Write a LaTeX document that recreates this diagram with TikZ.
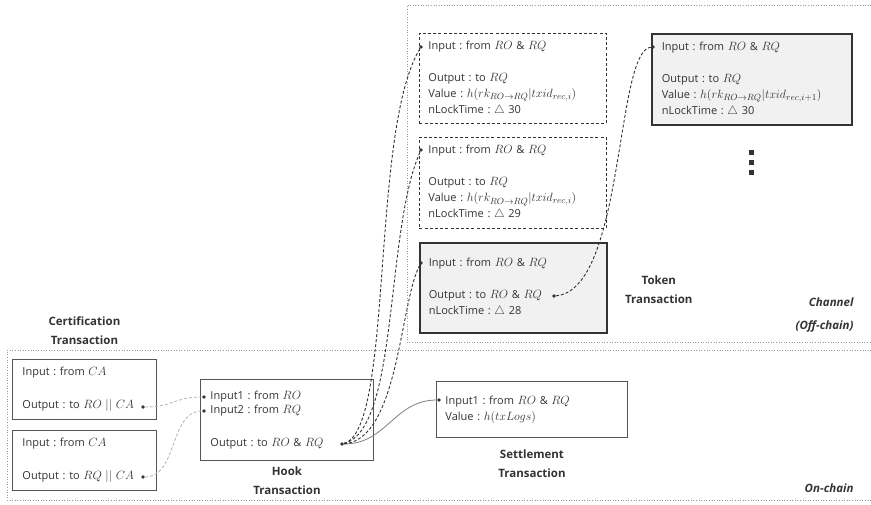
\documentclass[tikz,border=0pt]{standalone}
\usepackage{fontspec}
\setmainfont{Open Sans}
\usetikzlibrary{positioning}
\DeclareMathSizes{11}{12}{9}{7}

\definecolor{ink}{HTML}{333333}
\definecolor{boxline}{HTML}{555555}
\definecolor{boxfill}{HTML}{F1F1F1}
\definecolor{zonegray}{HTML}{9A9A9A}

\begin{document}
\frenchspacing
\begin{tikzpicture}[x=1pt,y=-1pt]
\tikzset{% styles for the boxes, the dots and the links
        tx/.style={anchor=north west,align=left,inner xsep=9pt,inner ysep=0pt,draw=boxline,line width=0.9pt,text=ink,font=\fontsize{11}{16}\selectfont},
        tkdash/.style={tx,draw=ink,dash pattern=on 3pt off 2.2pt},
        tkfull/.style={tx,draw=ink,line width=1.6pt,fill=boxfill},
        pin/.style={circle,fill=ink,inner sep=0pt,minimum size=3.6pt},
        lbl/.style={align=center,text=ink,font=\fontsize{11.5}{19}\selectfont\bfseries},
        zone/.style={draw=zonegray,line width=0.6pt,dotted},
        c1/.style={ink,line width=0.9pt,dash pattern=on 3pt off 2pt},
        c2/.style={gray!60,line width=0.8pt,dash pattern=on 3pt off 2pt},
        c3/.style={gray,line width=0.8pt},
        }
\useasboundingbox (0,0) rectangle (871,505);

% Zones
\draw[zone] (871,5) -- (407,5) -- (407,342) -- (871,342);
\draw[zone] (871,350) -- (7,350) -- (7,500) -- (871,500);

% Channel boxes
\node[tkdash,text width=169pt,minimum height=90pt] (tA) at (419,33) {Input : from $RO$ \& $RQ$\\[16pt] Output : to $RQ$\\ Value : $h(rk_{RO\rightarrow RQ}|txid_{rec,i})$\\ nLockTime : $\triangle$ 30};
\node[tkdash,text width=169pt,minimum height=91pt] (tB) at (419,137) {Input : from $RO$ \& $RQ$\\[16pt] Output : to $RQ$\\ Value : $h(rk_{RO\rightarrow RQ}|txid_{rec,i})$\\ nLockTime : $\triangle$ 29};
\node[tkfull,text width=169pt,minimum height=90pt] (tC) at (419,242) {Input : from $RO$ \& $RQ$\\[16pt] Output : to $RO$ \& $RQ$\\ nLockTime : $\triangle$ 28};
\node[tkfull,inner xsep=10pt,text width=180pt,minimum height=91pt] (tD) at (651,33) {Input : from $RO$ \& $RQ$\\[16pt] Output : to $RQ$\\ Value : $h(rk_{RO\rightarrow RQ}|txid_{rec,i+1})$\\ nLockTime : $\triangle$ 30};
\foreach \y in {153,163,173} \fill[ink] (748.5,\y-2.5) rectangle +(5,5);

% On-chain boxes
\node[tx,inner xsep=10pt,text width=124pt,minimum height=60pt] (cert1) at (12,359) {Input : from $CA$\\[17pt] Output : to $RO\ ||\ CA$};
\node[tx,inner xsep=10pt,text width=124pt,minimum height=60pt] (cert2) at (12,430) {Input : from $CA$\\[17pt] Output : to $RQ\ ||\ CA$};
\node[tx,inner xsep=10pt,text width=153pt,minimum height=81pt] (hook) at (200,379) {Input1 : from $RO$\\[-2pt] Input2 : from $RQ$\\[17pt] Output : to $RO$ \& $RQ$};
\node[tx,text width=173pt,minimum height=56pt] (setl) at (436,381) {Input1 : from $RO$ \& $RQ$\\ Value : $h(txLogs)$};

% Labels
\node[lbl,above=11pt of cert1] (certlbl) {Certification\\Transaction};
\node[lbl,below=2pt of hook] (hooklbl) {Hook\\Transaction};
\node[lbl,below=8pt of setl] (setllbl) {Settlement\\Transaction};
\node[lbl,right=14pt of tC,yshift=-2pt] (toklbl) {Token\\Transaction};
\node[lbl,font=\fontsize{11.5}{23}\selectfont\bfseries\itshape,align=right,anchor=north east] (chlbl) at (857,294) {Channel\\(Off-chain)};
\node[lbl,font=\fontsize{11.5}{19}\selectfont\bfseries\itshape,anchor=east] (onlbl) at (857,488) {On-chain};

% Dots
\node[pin] (a-in) at ([shift={(2,14)}]tA.north west) {};
\node[pin] (b-in) at ([shift={(2,13)}]tB.north west) {};
\node[pin] (c-in) at ([shift={(2,21)}]tC.north west) {};
\node[pin] (c-out) at ([shift={(135,54)}]tC.north west) {};
\node[pin] (d-in) at ([shift={(2,14)}]tD.north west) {};
\node[pin] (k1-out) at ([shift={(131,48)}]cert1.north west) {};
\node[pin] (k2-out) at ([shift={(131,47)}]cert2.north west) {};
\node[pin] (h-in1) at ([shift={(4,18)}]hook.north west) {};
\node[pin] (h-in2) at ([shift={(4,32)}]hook.north west) {};
\node[pin] (h-out) at ([shift={(142,65)}]hook.north west) {};
\node[pin] (s-in) at ([shift={(3,19)}]setl.north west) {};

%Edges
\draw[c2] (k1-out) .. controls +(30,0) and +(-30,0) .. (h-in1);
\draw[c2] (k2-out) .. controls +(35,0) and +(-35,0) .. (h-in2);
\draw[c3] (h-out) .. controls +(45,0) and +(-45,0) .. (s-in);
\draw[c1] (h-out) .. controls +(52,-14) and +(-51,83) .. (a-in);
\draw[c1] (h-out) .. controls +(57,-14) and +(-36,80) .. (b-in);
\draw[c1] (h-out) .. controls +(57,-4) and +(-21,37) .. (c-in);
\draw[c1] (c-out) .. controls +(71,-6) and +(-38,3) .. (d-in);
\end{tikzpicture}
\end{document}
